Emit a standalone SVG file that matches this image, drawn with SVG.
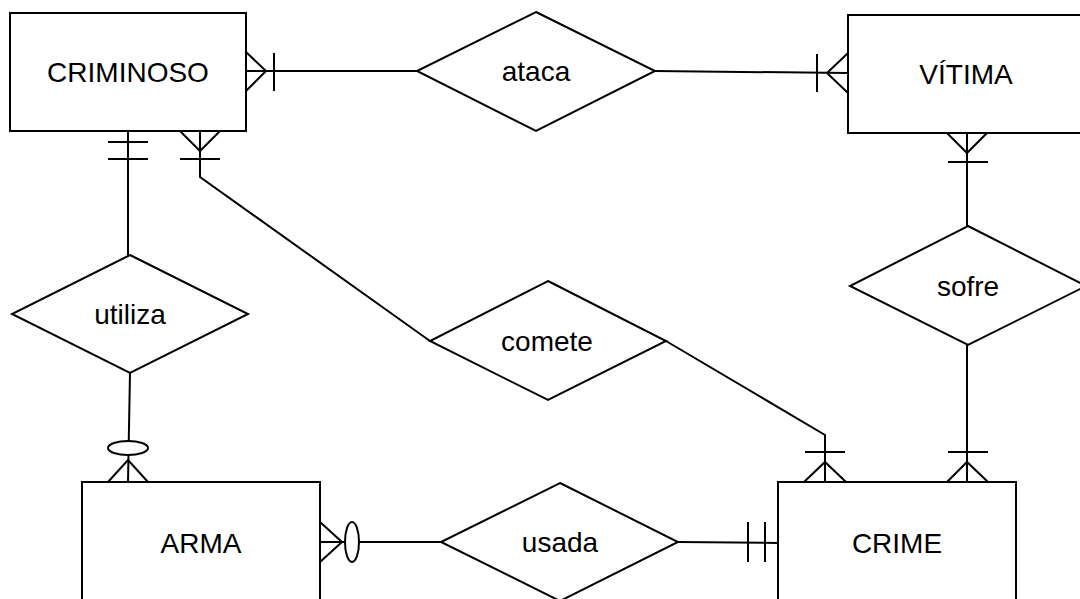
<svg xmlns="http://www.w3.org/2000/svg" width="1080" height="599" viewBox="0 0 1080 599">
<style>
.shape{fill:#fff;stroke:#000;stroke-width:2}
.ln{fill:none;stroke:#000;stroke-width:2}
text{font-family:"Liberation Sans",Arial,sans-serif;font-size:28px;fill:#000;text-anchor:middle}
</style>
<rect width="1080" height="599" fill="#fff"/>
<g id="connectors">
  <path class="ln" d="M246,71 L417,71"/>
  <path class="ln" d="M246,52 L266,71 L246,91 M274,53 L274,91"/>
  <path class="ln" d="M655,71 L848,73"/>
  <path class="ln" d="M848,53 L827,73 L848,93 M817,54 L817,92"/>
  <path class="ln" d="M128,131 L128,255"/>
  <path class="ln" d="M108,142 L148,142 M108,159 L148,159"/>
  <path class="ln" d="M200,131 L200,177 L430,341"/>
  <path class="ln" d="M180,131 L200,151 L220,131 M180,159 L220,159"/>
  <path class="ln" d="M666,341 L825,435 L825,482"/>
  <path class="ln" d="M804,482 L825,462 L846,482 M805,452 L845,452"/>
  <path class="ln" d="M967,133 L967,226"/>
  <path class="ln" d="M947,133 L967,153 L987,133 M948,162 L988,162"/>
  <path class="ln" d="M967,345 L967,482"/>
  <path class="ln" d="M947,482 L967,462 L988,482 M948,452 L988,452"/>
  <path class="ln" d="M130,373 L128,482"/>
  <path class="ln" d="M108,482 L128,460 L148,482"/>
  <ellipse class="shape" cx="128" cy="448" rx="20" ry="7"/>
  <path class="ln" d="M320,542 L441,542"/>
  <path class="ln" d="M320,522 L342,542 L320,562"/>
  <ellipse class="shape" cx="352" cy="542" rx="7" ry="20"/>
  <path class="ln" d="M678,542 L778,543"/>
  <path class="ln" d="M748,522 L748,562 M765,522 L765,562"/>
</g>
<g id="criminoso"><rect class="shape" x="10" y="13" width="236" height="118"/><text x="128" y="82">CRIMINOSO</text></g>
<g id="vitima"><rect class="shape" x="848" y="15" width="240" height="118"/><text x="966" y="84">VÍTIMA</text></g>
<g id="arma"><rect class="shape" x="82" y="482" width="238" height="130"/><text x="201" y="553">ARMA</text></g>
<g id="crime"><rect class="shape" x="778" y="482" width="238" height="130"/><text x="897" y="553">CRIME</text></g>
<g id="ataca"><polygon class="shape" points="536,12 655,71 536,131 417,71"/><text x="536" y="81">ataca</text></g>
<g id="utiliza"><polygon class="shape" points="130,255 248,314 130,373 12,314"/><text x="130" y="324">utiliza</text></g>
<g id="comete"><polygon class="shape" points="548,281 666,341 548,400 430,341"/><text x="547" y="351">comete</text></g>
<g id="sofre"><polygon class="shape" points="968,226 1086,286 968,345 850,286"/><text x="968" y="296">sofre</text></g>
<g id="usada"><polygon class="shape" points="560,483 678,542 560,601 441,542"/><text x="560" y="552">usada</text></g>
</svg>
